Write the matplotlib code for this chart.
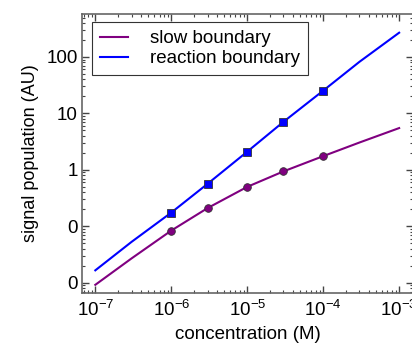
import matplotlib
matplotlib.use('Agg')
import matplotlib.pyplot as plt
from matplotlib.ticker import FuncFormatter, LogLocator
import numpy as np

plt.rcParams['font.family'] = ['Liberation Sans', 'DejaVu Sans']

# values
conc_line = [1e-7, 3e-7, 1e-6, 3e-6, 1e-5, 3e-5, 1e-4, 3e-4, 1e-3]
slow_line = [0.0092, 0.027, 0.084, 0.21, 0.50, 0.94, 1.75, 3.05, 5.5]
reaction_line = [0.0166, 0.053, 0.175, 0.565, 2.1, 7.1, 25.3, 82, 269]

conc_pts = [1e-6, 3e-6, 1e-5, 3e-5, 1e-4]
slow_pts = [0.084, 0.21, 0.50, 0.94, 1.75]
reaction_pts = [0.175, 0.565, 2.1, 7.1, 25.3]

purple = '#800080'
blue = '#0000ff'

fig = plt.figure(figsize=(4.12, 3.43), dpi=100)
ax = fig.add_axes([0.2, 0.146, 0.802, 0.813])

ax.plot(conc_line, slow_line, color=purple, lw=1.5, label='slow boundary')
ax.plot(conc_line, reaction_line, color=blue, lw=1.5, label='reaction boundary')
ax.plot(conc_pts, slow_pts, 'o', color=purple, ms=5.5, mec='#333333', mew=0.6)
ax.plot(conc_pts, reaction_pts, 's', color=blue, ms=5.5, mec='#333333', mew=0.6)

ax.set_xscale('log')
ax.set_yscale('log')
ax.set_xlim(10 ** -7.17, 10 ** -2.82)
ax.set_ylim(10 ** -2.18, 10 ** 2.76)

ax.xaxis.set_major_locator(LogLocator(base=10, numticks=10))
ax.yaxis.set_major_locator(LogLocator(base=10, numticks=10))
ax.yaxis.set_major_formatter(FuncFormatter(lambda v, p: '%d' % v))

ax.tick_params(which='both', direction='in', top=True, right=True, colors='#444444',
               labelcolor='black', labelsize=13.5)
ax.tick_params(which='major', length=5, width=1)
ax.tick_params(which='minor', length=2.5, width=0.8)
ax.tick_params(axis='x', pad=5)
for s in ax.spines.values():
    s.set_color('#666666')
    s.set_linewidth(1.2)

ax.set_xlabel('concentration (M)', fontsize=13.5, labelpad=4)
ax.set_ylabel('signal population (AU)', fontsize=13, labelpad=5)

leg = ax.legend(loc='upper left', fontsize=13.5, fancybox=False, framealpha=1,
                edgecolor='#333333', handlelength=1.5, borderpad=0.42,
                labelspacing=0.15, handletextpad=1.2, borderaxespad=0,
                bbox_to_anchor=(0.029, 0.971))
leg.get_frame().set_linewidth(0.8)

fig.savefig('out.png', dpi=100)
